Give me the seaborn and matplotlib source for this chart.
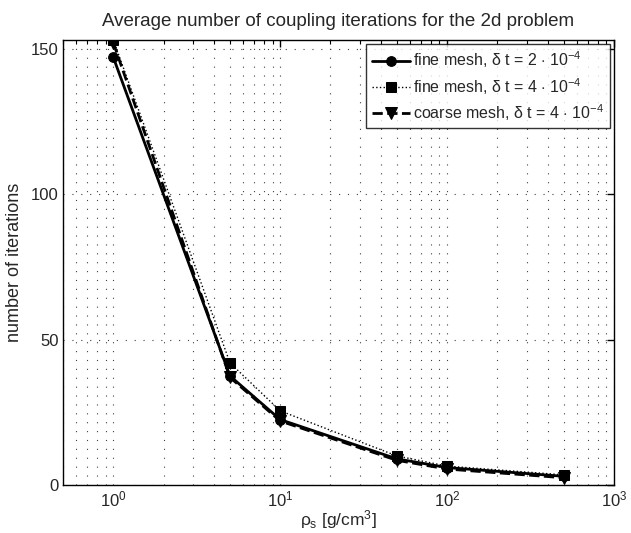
import matplotlib
matplotlib.use("Agg")
import matplotlib.pyplot as plt
import seaborn as sns
import pandas as pd
from matplotlib.ticker import LogLocator, NullFormatter

rho = [1, 5, 10, 50, 100, 500]
fine_dt2 = [147, 37.5, 22.5, 9, 6, 3]
fine_dt4 = [153, 42, 25.5, 10, 6.5, 3.5]
coarse_dt4 = [152, 37, 22, 8.5, 5.5, 2.5]

labels = [r"fine mesh, $\delta$ t = 2 $\cdot$ 10$^{-4}$",
          r"fine mesh, $\delta$ t = 4 $\cdot$ 10$^{-4}$",
          r"coarse mesh, $\delta$ t = 4 $\cdot$ 10$^{-4}$"]

sns.set_style("white")
plt.rcParams['font.family'] = ['Liberation Sans', 'DejaVu Sans']
plt.rcParams['mathtext.fontset'] = 'custom'
plt.rcParams['mathtext.rm'] = 'Liberation Sans'
plt.rcParams['mathtext.it'] = 'Liberation Sans'

df = pd.DataFrame({
    "rho": rho * 3,
    "it": fine_dt2 + fine_dt4 + coarse_dt4,
    "series": [labels[0]] * 6 + [labels[1]] * 6 + [labels[2]] * 6,
})

fig = plt.figure(figsize=(6.31, 5.33), dpi=100)
ax = fig.add_axes([0.100, 0.090, 0.873, 0.835])

styles = [("-", "o", 2.0, 7), (":", "s", 1.0, 6.5), ("--", "v", 2.0, 8.5)]
for lab, (ls, mk, lw, ms) in zip(labels, styles):
    sub = df[df["series"] == lab]
    sns.lineplot(data=sub, x="rho", y="it", ax=ax, color="black", linestyle=ls,
                 marker=mk, linewidth=lw, markersize=ms, markeredgecolor="black",
                 label=lab, estimator=None)

ax.set_xscale("log")
ax.set_xlim(0.5, 1000)
ax.set_ylim(0, 153)
ax.set_yticks([0, 50, 100, 150])
ax.xaxis.set_major_locator(LogLocator(base=10, numticks=10))
ax.xaxis.set_minor_locator(LogLocator(base=10, subs=range(2, 10), numticks=20))
ax.xaxis.set_minor_formatter(NullFormatter())
gridkw = dict(linestyle=(0, (1, 7)), color="0.25", linewidth=0.8)
ax.grid(True, which="major", axis="both", **gridkw)
ax.grid(True, which="minor", axis="x", **gridkw)
ax.tick_params(which="both", direction="in", top=True, right=True, labelsize=12,
               color="black")
ax.tick_params(which="major", length=5, width=1.0, pad=3)
ax.tick_params(which="minor", length=3, width=0.8)
for s in ax.spines.values():
    s.set_color("black")
    s.set_linewidth(1.0)

ax.set_title("Average number of coupling iterations for the 2d problem", fontsize=13.5, pad=10)
ax.set_xlabel(r"$\rho_s$ [g/cm$^3$]", fontsize=12.5, labelpad=-1)
ax.set_ylabel("number of iterations", fontsize=13, labelpad=6)

leg = ax.legend(loc="upper right", fontsize=11.5, frameon=True, fancybox=False,
                edgecolor="black", handlelength=2.4, handletextpad=0.2,
                labelspacing=0.35, borderpad=0.35, borderaxespad=0.25)
leg.get_frame().set_linewidth(1.0)

fig.savefig("out.png", dpi=100)
